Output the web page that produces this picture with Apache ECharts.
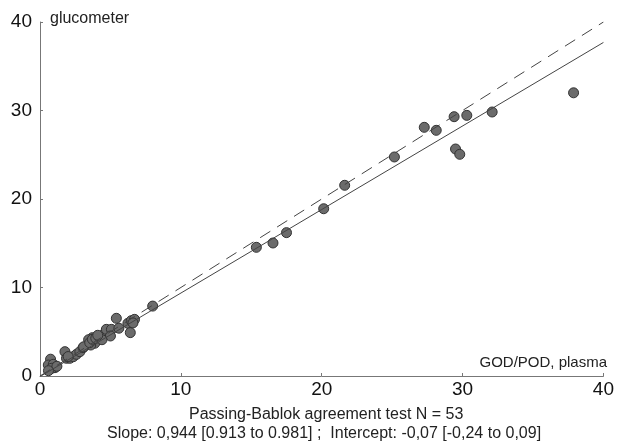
<!DOCTYPE html>
<html>
<head>
<meta charset="utf-8" />
<script src="https://cdn.jsdelivr.net/npm/echarts@6/dist/echarts.min.js"></script>
<title>Passing-Bablok</title>
</head>
<body style="margin:0">
<div id="chart" style="width:617px;height:445px;"></div>
<script>
// GOD/POD plasma values
var plasma = [15.36, 16.54, 17.5, 20.14, 21.63, 25.16, 27.28, 28.13, 29.4, 30.3, 29.5, 29.8, 32.1, 37.88,
    0.75, 0.59, 0.94, 1.06, 0.83, 1.77, 1.88, 2.12, 2.36, 2.59, 2.83, 3.06, 3.53, 3.72, 3.89, 3.6, 3.45,
    3.1, 3.53, 3.72, 3.96, 4.24, 4.6, 4.71, 5.07, 5.0, 5.42, 6.24, 6.48, 6.71, 6.41, 8.0,
    1.2, 2.0, 4.4, 4.1, 5.6, 6.6, 0.6];
// glucometer values
var glucometer = [14.54, 15.03, 16.2, 18.9, 21.55, 24.75, 28.1, 27.76, 29.3, 29.45, 25.65, 25.05, 29.83, 32.0,
    1.9, 1.24, 1.32, 0.94, 0.87, 2.75, 2.0, 2.0, 2.18, 2.45, 2.75, 3.2, 3.88, 4.33, 3.7, 3.5, 4.1,
    3.3, 3.76, 4.15, 4.26, 4.37, 4.82, 5.27, 5.27, 4.52, 6.52, 5.95, 6.25, 6.4, 4.9, 7.9,
    1.1, 2.2, 4.1, 4.6, 5.4, 6.0, 0.6];
var ticks = [0, 10, 20, 30, 40];
var slope = 0.944, intercept = -0.07;

var points = [];
for (var i = 0; i < plasma.length; i++) {
    points.push([plasma[i], glucometer[i]]);
}

var myChart = echarts.init(document.getElementById('chart'));
var option = {
    backgroundColor: '#fff',
    animation: false,
    grid: {left: 40, right: 11, top: 22, bottom: 69},
    xAxis: {
        type: 'value', min: ticks[0], max: ticks[ticks.length - 1], interval: 10,
        splitLine: {show: false},
        axisLine: {lineStyle: {color: '#777'}},
        axisTick: {inside: true, length: 3, lineStyle: {color: '#777'}},
        axisLabel: {color: '#111', fontSize: 19, fontFamily: 'Liberation Sans', margin: 4}
    },
    yAxis: {
        type: 'value', min: ticks[0], max: ticks[ticks.length - 1], interval: 10,
        splitLine: {show: false},
        axisLine: {show: true, lineStyle: {color: '#777'}},
        axisTick: {show: true, inside: true, length: 3, lineStyle: {color: '#777'}},
        axisLabel: {color: '#111', fontSize: 19, fontFamily: 'Liberation Sans', margin: 8}
    },
    graphic: [
        {type: 'text', left: 50, top: 11, style: {text: 'glucometer', fontSize: 16, fontFamily: 'Liberation Sans', fill: '#222'}},
        {type: 'text', right: 10, top: 355, style: {text: 'GOD/POD, plasma', fontSize: 15, fontFamily: 'Liberation Sans', fill: '#222'}},
        {type: 'text', left: 189, top: 407, style: {text: 'Passing-Bablok agreement test N = 53', fontSize: 16, fontFamily: 'Liberation Sans', fill: '#222'}},
        {type: 'text', left: 107, top: 426, style: {text: 'Slope: 0,944 [0.913 to 0.981] ;  Intercept: -0,07 [-0,24 to 0,09]', fontSize: 16, fontFamily: 'Liberation Sans', fill: '#222'}}
    ],
    series: [
        {
            type: 'line', symbol: 'none', silent: true,
            data: [[0, 0], [40, 40]],
            lineStyle: {color: '#444', width: 1, type: [12, 8]}
        },
        {
            type: 'line', symbol: 'none', silent: true,
            data: [[0, intercept], [40, slope * 40 + intercept]],
            lineStyle: {color: '#444', width: 1}
        },
        {
            type: 'scatter', symbolSize: 10,
            data: points,
            itemStyle: {color: '#6b6b6b', borderColor: '#333', borderWidth: 1, opacity: 1}
        }
    ]
};
myChart.setOption(option);
</script>
</body>
</html>
